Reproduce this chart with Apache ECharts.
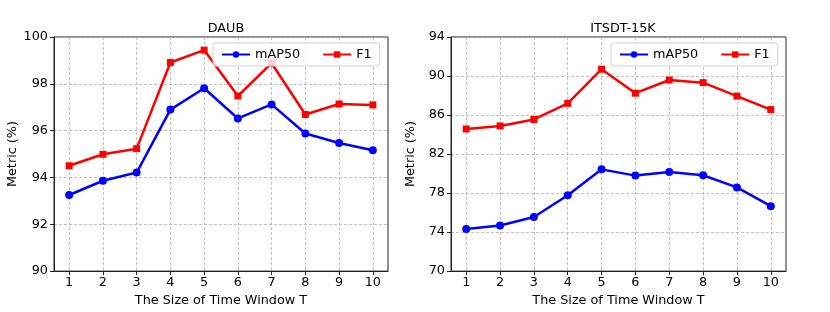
<!DOCTYPE html>
<html><head><meta charset="utf-8">
<script src="https://cdn.jsdelivr.net/npm/echarts@6/dist/echarts.min.js"></script>
<style>html,body{margin:0;padding:0;background:#fff}#c{width:830px;height:312px}</style>
</head><body><div id="c"></div>
<script>
const windowSizes = [1,2,3,4,5,6,7,8,9,10];
const daubMap50 = [93.25,93.86,94.21,96.90,97.81,96.52,97.12,95.88,95.47,95.16];
const daubF1 = [94.50,94.99,95.23,98.91,99.44,97.48,98.88,96.69,97.14,97.10];
const itsdtMap50 = [74.31,74.68,75.55,77.78,80.43,79.79,80.16,79.83,78.58,76.66];
const itsdtF1 = [84.57,84.88,85.55,87.20,90.70,88.24,89.59,89.32,87.94,86.56];
const daubTicks = [90,92,94,96,98,100];
const itsdtTicks = [70,74,78,82,86,90,94];
const titles = ['DAUB','ITSDT-15K'];
const xName = 'The Size of Time Window T';
const yName = 'Metric (%)';

const font = 'DejaVu Sans';
const fs = 12.8;
const grids = [{left:54,top:37,width:334,height:237},{left:451,top:37,width:335,height:237}];
function xAxis(i){return {type:'value',gridIndex:i,min:0.55,max:10.45,
  name:xName,nameLocation:'middle',nameGap:21,nameTextStyle:{fontFamily:font,fontSize:fs,color:'#000'},
  axisLine:{show:true,onZero:false,lineStyle:{color:'#222',width:1}},
  axisTick:{show:true,length:4,customValues:windowSizes,lineStyle:{color:'#222'}},
  axisLabel:{customValues:windowSizes,fontFamily:font,fontSize:fs,color:'#000',margin:5},
  splitLine:{show:true,lineStyle:{color:'#b0b0b0',type:[3,2],width:0.8}}};}
function yAxis(i,ticks){return {type:'value',gridIndex:i,min:ticks[0],max:ticks[ticks.length-1],
  name:yName,nameLocation:'middle',nameGap:34,nameTextStyle:{fontFamily:font,fontSize:fs,color:'#000'},
  axisLine:{show:true,onZero:false,lineStyle:{color:'#222',width:1}},
  axisTick:{show:true,length:4,customValues:ticks,lineStyle:{color:'#222'}},
  axisLabel:{customValues:ticks,fontFamily:font,fontSize:fs,color:'#000',margin:6},
  splitLine:{show:true,lineStyle:{color:'#b0b0b0',type:[3,2],width:0.8}}};}
function pairs(v){return windowSizes.map((x,i)=>[x,v[i]]);}
function ser(name,data,i,color,sym){return {name,type:'line',xAxisIndex:i,yAxisIndex:i,data:pairs(data),
  symbol:sym,symbolSize:sym==='circle'?8:7,itemStyle:{color},lineStyle:{color,width:2.5},animation:false};}
const chart = echarts.init(document.getElementById('c'),null,{renderer:'canvas'});
chart.setOption({
  animation:false,
  title:[
    {text:titles[0],left:221,top:17,textAlign:'center',textStyle:{fontFamily:font,fontSize:fs,fontWeight:'normal',color:'#000'}},
    {text:titles[1],left:618,top:17,textAlign:'center',textStyle:{fontFamily:font,fontSize:fs,fontWeight:'normal',color:'#000'}}
  ],
  grid:grids.map(g=>Object.assign({show:true,borderColor:'#222',borderWidth:1,backgroundColor:'transparent'},g)),
  xAxis:[xAxis(0),xAxis(1)],
  yAxis:[yAxis(0,daubTicks),yAxis(1,itsdtTicks)],
  legend:[
    {left:213,top:43,width:170,padding:[5,8,5,8],itemGap:22,itemWidth:28,itemHeight:8,
     borderColor:'#d0d0d0',borderWidth:1,borderRadius:3,backgroundColor:'rgba(255,255,255,0.8)',
     textStyle:{fontFamily:font,fontSize:fs,color:'#000'},data:['mAP50','F1']},
    {left:611,top:43,width:170,padding:[5,8,5,8],itemGap:22,itemWidth:28,itemHeight:8,
     borderColor:'#d0d0d0',borderWidth:1,borderRadius:3,backgroundColor:'rgba(255,255,255,0.8)',
     textStyle:{fontFamily:font,fontSize:fs,color:'#000'},data:['mAP50','F1']}
  ],
  series:[
    ser('mAP50',daubMap50,0,'#0000ff','circle'),
    ser('F1',daubF1,0,'#ff0000','rect'),
    ser('mAP50',itsdtMap50,1,'#0000ff','circle'),
    ser('F1',itsdtF1,1,'#ff0000','rect')
  ]
});
</script></body></html>
